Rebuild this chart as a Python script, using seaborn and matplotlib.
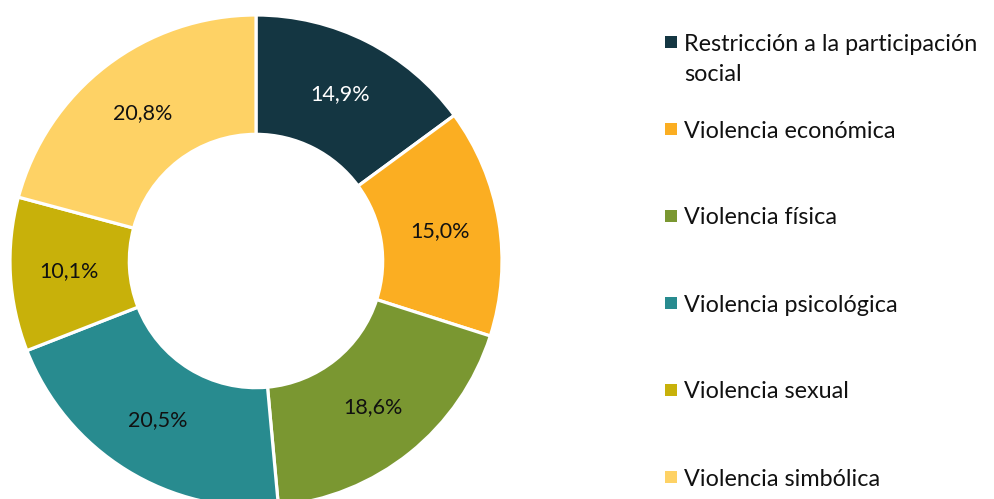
import matplotlib
matplotlib.use("Agg")
import matplotlib.pyplot as plt
import seaborn as sns

# data
categories = [
    "Restricción a la participación\nsocial",
    "Violencia económica",
    "Violencia física",
    "Violencia psicológica",
    "Violencia sexual",
    "Violencia simbólica",
]
values = [14.9, 15.0, 18.6, 20.5, 10.1, 20.8]
colors = ["#143642", "#FBAE22", "#7A9731", "#288B8F", "#C8B10A", "#FED265"]
label_colors = ["white", "#111111", "#111111", "#111111", "#111111", "#111111"]

sns.set_theme(style="white")
plt.rcParams["font.family"] = ["Lato", "DejaVu Sans"]

fig = plt.figure(figsize=(9.94, 4.99), dpi=100)
fig.patch.set_facecolor("white")

# donut axes, the bottom of the ring runs a bit past the figure edge
ax = fig.add_axes([10 / 994, -8 / 499, 492 / 994, 492 / 499])
wedges, texts = ax.pie(
    values,
    colors=colors,
    startangle=90,
    counterclock=False,
    radius=1,
    labels=[f"{v:.1f}%".replace(".", ",") for v in values],
    labeldistance=0.76,
    wedgeprops=dict(width=0.485, edgecolor="white", linewidth=2.3),
    textprops=dict(fontsize=15.5),
)
for t, c in zip(texts, label_colors):
    t.set_color(c)
    t.set_ha("center")
    t.set_va("center")
ax.set_xlim(-1, 1)
ax.set_ylim(-1, 1)
ax.set_aspect("auto")
ax.axis("off")

# legend drawn by hand so the marker sits on the first text line
lax = fig.add_axes([0, 0, 1, 1])
lax.set_xlim(0, 994)
lax.set_ylim(499, 0)
lax.axis("off")
row_gap = 87
line_gap = 30
for i, (name, col) in enumerate(zip(categories, colors)):
    y = 42 + i * row_gap
    lax.scatter([671], [y], marker="s", s=75, color=col, linewidths=0)
    for j, line in enumerate(name.split("\n")):
        lax.text(684, y + j * line_gap, line, fontsize=16.8,
                 va="center_baseline", ha="left", color="#111111")

fig.savefig("out.png", dpi=100)
